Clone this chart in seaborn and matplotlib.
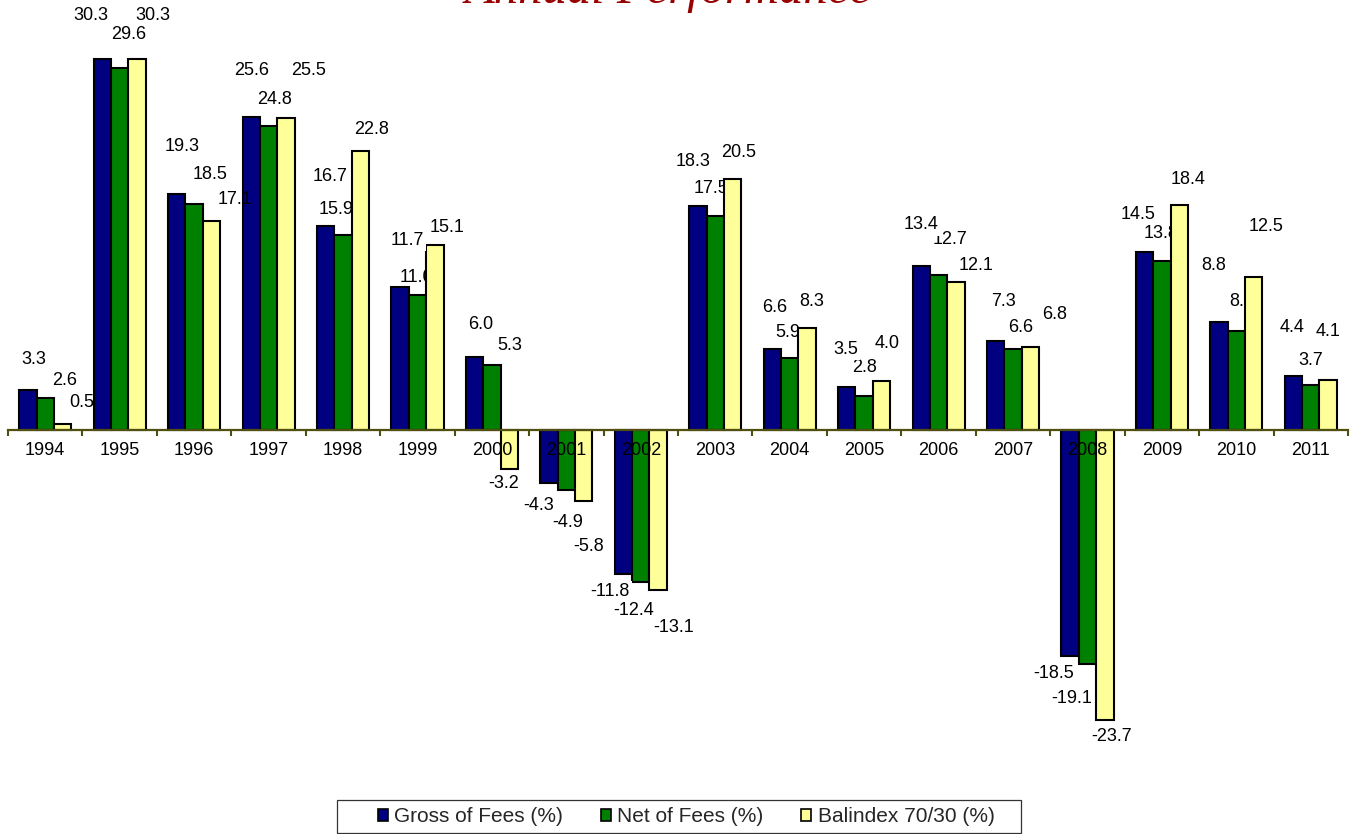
import numpy as np
import pandas as pd
import matplotlib
matplotlib.use('Agg')
import matplotlib.pyplot as plt
import seaborn as sns
from matplotlib.ticker import FixedLocator
from matplotlib.patches import Rectangle

years = [1994, 1995, 1996, 1997, 1998, 1999, 2000, 2001, 2002,
         2003, 2004, 2005, 2006, 2007, 2008, 2009, 2010, 2011]
gross = [3.3, 30.3, 19.3, 25.6, 16.7, 11.7, 6.0, -4.3, -11.8,
         18.3, 6.6, 3.5, 13.4, 7.3, -18.5, 14.5, 8.8, 4.4]
net = [2.6, 29.6, 18.5, 24.8, 15.9, 11.0, 5.3, -4.9, -12.4,
       17.5, 5.9, 2.8, 12.7, 6.6, -19.1, 13.8, 8.1, 3.7]
balindex = [0.5, 30.3, 17.1, 25.5, 22.8, 15.1, -3.2, -5.8, -13.1,
            20.5, 8.3, 4.0, 12.1, 6.8, -23.7, 18.4, 12.5, 4.1]
series_names = ['Gross of Fees (%)', 'Net of Fees (%)', 'Balindex 70/30 (%)']
colors = ['#000080', '#008000', '#FFFF99']
title = 'Annual Performance'

# Layout only: pixel nudges of each value label from its bar end (dx right, dy up)
label_nudge_x = [
    [6, -11, 5, 0, 4, 7, 6, -10, -13, -5, 2, -1, 0, 8, -16, -6, -5, -1],
    [19, 9, 16, 6, -7, -1, 18, 1, -7, -4, -2, 0, 11, 8, -16, -1, 5, 0],
    [19, 16, 24, 23, 11, 12, -6, 5, 15, 6, 5, 6, 20, 24, 7, 9, 12, 0],
]
label_nudge_y = [
    [30, 44, 47, 46, 49, 46, 32, -23, -17, 44, 42, 38, 41, 39, -17, 38, 57, 49],
    [18, 33, 29, 27, 26, 18, 20, -33, -29, 27, 25, 28, 35, 22, -35, 28, 29, 24],
    [21, 44, 21, 47, 21, 18, -14, -46, -37, 27, 27, 38, 16, 32, -16, 25, 50, 48],
]

values = [gross, net, balindex]
df = pd.DataFrame({
    'Year': [str(y) for y in years] * 3,
    'Series': np.repeat(series_names, len(years)),
    'Value': gross + net + balindex,
})

sns.set_theme(style='white')
plt.rcParams['font.family'] = ['Liberation Sans', 'DejaVu Sans']

W, H = 1356, 834
fig = plt.figure(figsize=(W / 100, H / 100), dpi=100)
ax = fig.add_axes([8 / W, 54 / H, 1340 / W, 780 / H])
ax.patch.set_alpha(0)

sns.barplot(data=df, x='Year', y='Value', hue='Series', hue_order=series_names,
            palette=colors, saturation=1, width=0.7, gap=0, edgecolor='black',
            linewidth=1.5, errorbar=None, ax=ax)

ax.set_xlim(-0.5, len(years) - 0.5)
ax.set_ylim(-28.6, 35.13)
ax.set_axisbelow(False)
axis_color = '#4f4f10'
for s in ['top', 'right', 'left']:
    ax.spines[s].set_visible(False)
ax.spines['bottom'].set_position(('data', 0))
ax.spines['bottom'].set_color(axis_color)
ax.spines['bottom'].set_linewidth(1.6)
ax.set_yticks([])
ax.set_xlabel('')
ax.set_ylabel('')
ax.xaxis.set_minor_locator(FixedLocator(np.arange(-0.5, len(years), 1.0)))
ax.tick_params(axis='x', which='major', length=0, pad=9, labelsize=13, labelcolor='black')
ax.tick_params(axis='x', which='minor', length=4, width=1.5, color=axis_color,
               direction='out', bottom=True)

zorders = [4, 0.9, 4.5]
for i, cont in enumerate(ax.containers):
    for j, (bar, v) in enumerate(zip(cont, values[i])):
        x = bar.get_x() + bar.get_width() / 2
        kw = {}
        if i == 0:
            kw['bbox'] = dict(boxstyle='square,pad=0.12', fc='white', ec='none')
        ax.annotate(f'{v:.1f}', (x, v), xytext=(label_nudge_x[i][j], label_nudge_y[i][j]),
                    textcoords='offset pixels', ha='center', va='center', fontsize=13,
                    color='black', zorder=zorders[i], annotation_clip=False, **kw)

handles, labels = ax.get_legend_handles_labels()
if ax.get_legend() is not None:
    ax.get_legend().remove()
leg = fig.legend(handles, labels, loc='center', bbox_to_anchor=(686 / W, 1 - 817 / H),
                 ncol=3, frameon=False, fontsize=15, handlelength=0.5, handleheight=0.5,
                 handletextpad=0.3, columnspacing=1.8, borderpad=0)
for h in leg.legend_handles:
    h.set_edgecolor('black')
    h.set_linewidth(1.2)
fig.add_artist(Rectangle((337 / W, 1 - 833 / H), 684 / W, 33 / H, transform=fig.transFigure,
                         fill=False, edgecolor='#333333', linewidth=0.9))

fig.text(668 / W, 1 - 3 / H, title, ha='center', va='baseline', fontsize=35,
         fontstyle='italic', family=['Liberation Serif', 'DejaVu Serif'], color='#990000')

fig.savefig('out.png', dpi=100)
